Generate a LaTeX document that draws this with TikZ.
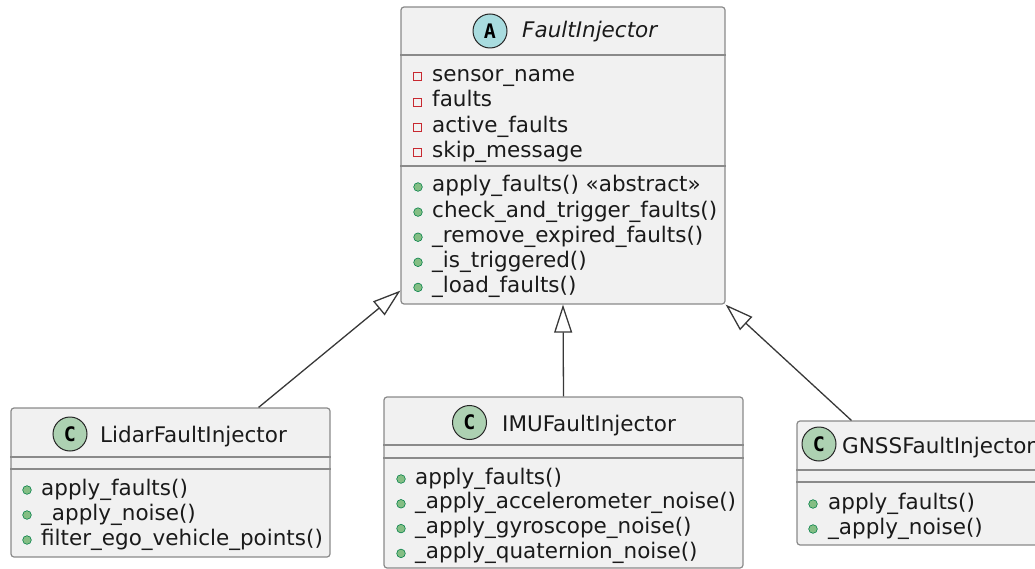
\documentclass[tikz,border=0pt]{standalone}
\usepackage{fontspec}
\setmainfont{DejaVu Sans}
\newfontfamily\iconfont{DejaVu Sans Mono}
\usetikzlibrary{arrows.meta,calc}

\definecolor{boxfill}{HTML}{F1F1F1}
\definecolor{boxline}{HTML}{8A8A8A}
\definecolor{edgeline}{HTML}{383838}
\definecolor{abstractfill}{HTML}{A9DCDF}
\definecolor{classfill}{HTML}{ADD1B2}
\definecolor{privline}{HTML}{C82930}
\definecolor{pubfill}{HTML}{84BE84}
\definecolor{publine}{HTML}{038048}
\definecolor{textcol}{HTML}{1A1A1A}

\tikzset{
  classbox/.style={rectangle, rounded corners=3pt, draw=boxline, line width=1.2pt,
    fill=boxfill, inner sep=0pt},
  sepline/.style={draw=boxline, line width=1.2pt},
  member/.style={anchor=base west, inner sep=0pt, text=textcol,
    font=\fontsize{21.5}{25}\selectfont},
  title/.style={anchor=base west, inner sep=0pt, text=textcol,
    font=\fontsize{21.5}{25}\selectfont},
  icon/.style={circle, draw=black!85, line width=1pt, minimum size=34pt, inner sep=0pt,
    font=\iconfont\bfseries\fontsize{20}{20}\selectfont},
  privmark/.style={draw=privline, line width=1pt},
  pubmark/.style={fill=pubfill, draw=publine, line width=0.6pt},
  extends/.style={draw=edgeline, line width=1.3pt,
    -{Triangle[length=28pt, width=18pt, fill=white, line join=miter]}}
}

\begin{document}
\begin{tikzpicture}[x=1pt, y=-1pt]
\useasboundingbox (0,0) rectangle (1035,569);
\clip (0,0) rectangle (1035,569);

% ---------- abstract base class ----------
\node[classbox, minimum width=324pt, minimum height=297pt] (fi) at (563,155.5) {};
\draw[sepline] (fi.west |- 0,55) -- (fi.east |- 0,55);
\draw[sepline] (fi.west |- 0,166) -- (fi.east |- 0,166);
\node[icon, fill=abstractfill] (fiicon) at (490,31) {A};
\node[title, font=\fontsize{21.5}{25}\selectfont\itshape] (fititle) at (522,38) {FaultInjector};
\foreach [count=\i from 0] \t in {sensor\_name, faults, active\_faults, skip\_message} {
  \pgfmathsetmacro\yb{81.5+25.3*\i}
  \node[member] (fiattr\i) at (432,\yb) {\t};
  \draw[privmark] (413,\yb-8.5) rectangle ++(8,8);
}
\foreach [count=\i from 0] \t in {apply\_faults() «abstract», check\_and\_trigger\_faults(),
    \_remove\_expired\_faults(), \_is\_triggered(), \_load\_faults()} {
  \pgfmathsetmacro\yb{192+25.1*\i}
  \node[member] (fimeth\i) at (432,\yb) {\t};
  \draw[pubmark] (418,\yb-5) circle (4.3pt);
}

% ---------- LidarFaultInjector ----------
\node[classbox, minimum width=319pt, minimum height=149pt] (lidar) at (170.5,482.5) {};
\draw[sepline] (lidar.west |- 0,457) -- (lidar.east |- 0,457);
\draw[sepline] (lidar.west |- 0,469) -- (lidar.east |- 0,469);
\node[icon, fill=classfill] (lidaricon) at (70,434) {C};
\node[title] (lidartitle) at (100,442) {LidarFaultInjector};
\foreach [count=\i from 0] \t in {apply\_faults(), \_apply\_noise(), filter\_ego\_vehicle\_points()} {
  \pgfmathsetmacro\yb{495+25*\i}
  \node[member] (lidarmeth\i) at (41,\yb) {\t};
  \draw[pubmark] (27,\yb-5) circle (4.3pt);
}

% ---------- IMUFaultInjector ----------
\node[classbox, minimum width=359pt, minimum height=171pt] (imu) at (563.5,482.5) {};
\draw[sepline] (imu.west |- 0,445) -- (imu.east |- 0,445);
\draw[sepline] (imu.west |- 0,458) -- (imu.east |- 0,458);
\node[icon, fill=classfill] (imuicon) at (469.5,422.5) {C};
\node[title] (imutitle) at (502,431) {IMUFaultInjector};
\foreach [count=\i from 0] \t in {apply\_faults(), \_apply\_accelerometer\_noise(),
    \_apply\_gyroscope\_noise(), \_apply\_quaternion\_noise()} {
  \pgfmathsetmacro\yb{484+24.8*\i}
  \node[member] (imumeth\i) at (415,\yb) {\t};
  \draw[pubmark] (401,\yb-5) circle (4.3pt);
}

% ---------- GNSSFaultInjector ----------
\node[classbox, minimum width=248pt, minimum height=124pt] (gnss) at (921,483) {};
\draw[sepline] (gnss.west |- 0,470) -- (gnss.east |- 0,470);
\draw[sepline] (gnss.west |- 0,482) -- (gnss.east |- 0,482);
\node[icon, fill=classfill] (gnssicon) at (819,444) {C};
\node[title] (gnsstitle) at (842,453) {GNSSFaultInjector};
\foreach [count=\i from 0] \t in {apply\_faults(), \_apply\_noise()} {
  \pgfmathsetmacro\yb{509+25*\i}
  \node[member] (gnssmeth\i) at (828,\yb) {\t};
  \draw[pubmark] (813,\yb-5) circle (4.3pt);
}

% ---------- inheritance ----------
\draw[extends] ([xshift=-72pt]lidar.north east) -- ([yshift=14pt]fi.south west);
\draw[extends] (imu.north) -- (fi.south);
\draw[extends] ([xshift=55pt]gnss.north west) -- (fi.south east);
\end{tikzpicture}
\end{document}
